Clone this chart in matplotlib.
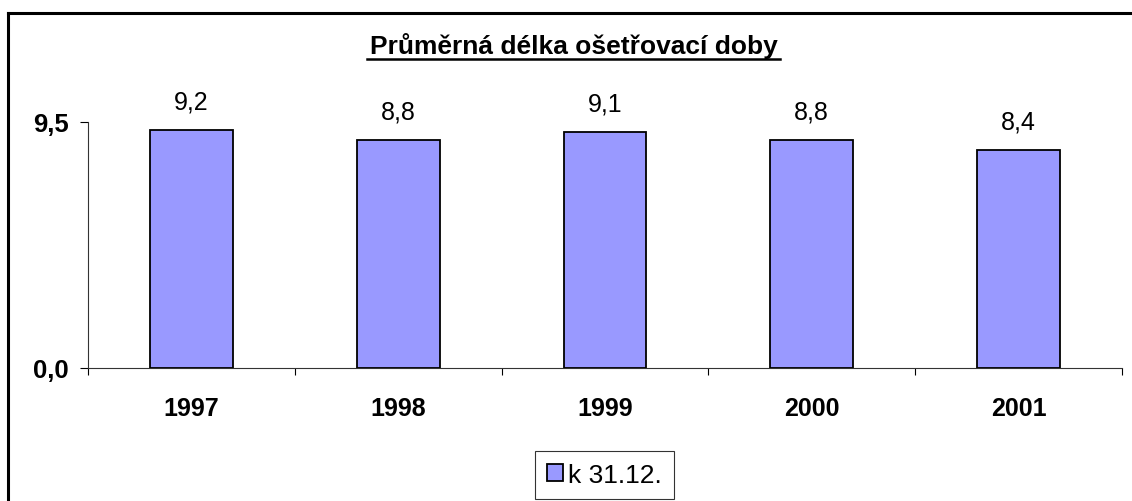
import matplotlib
matplotlib.use("Agg")
import matplotlib.pyplot as plt
from matplotlib.lines import Line2D

# data
years = ["1997", "1998", "1999", "2000", "2001"]
values = [9.2, 8.8, 9.1, 8.8, 8.4]
value_labels = ["9,2", "8,8", "9,1", "8,8", "8,4"]
y_ticks = [0.0, 9.5]
y_tick_labels = ["0,0", "9,5"]
series_name = "k 31.12."
title = "Průměrná délka ošetřovací doby"

plt.rcParams['font.family'] = ['Liberation Sans', 'DejaVu Sans']

W, H = 1132, 502
fig = plt.figure(figsize=(W / 100, H / 100), dpi=100)
ax = fig.add_axes([88 / W, 1 - 369 / H, (1122 - 88) / W, (369 - 123) / H])

x = list(range(len(years)))
bars = ax.bar(x, values, width=0.4, color="#9999FF", edgecolor="black",
              linewidth=1.3, label=series_name, zorder=3)
for xi, v, lab in zip(x, values, value_labels):
    ax.annotate(lab, (xi, v), xytext=(0, 12), textcoords="offset points",
                ha="center", va="bottom", fontsize=18)

ax.set_xlim(-0.5, len(years) - 0.5)
ax.set_ylim(0, 9.5)
ax.set_yticks(y_ticks)
ax.set_yticklabels(y_tick_labels, fontsize=18.5, fontweight="bold")
ax.set_xticks(x)
ax.set_xticklabels(years, fontsize=18, fontweight="bold")
ax.tick_params(axis="x", length=0, pad=20)
ax.set_xticks([i + 0.5 for i in range(-1, len(years))], minor=True)
ax.tick_params(axis="x", which="minor", length=5, width=0.8, direction="out")
ax.tick_params(axis="y", length=6, width=0.8, pad=8)

for side in ("top", "right"):
    ax.spines[side].set_visible(False)
for side in ("left", "bottom"):
    ax.spines[side].set_linewidth(0.8)
    ax.spines[side].set_color("#333333")

fig.text(574 / W, 1 - 46 / H, title, ha="center", va="center",
         fontsize=19, fontweight="bold")
# underline below title
fig.add_artist(Line2D([367 / W, 780 / W], [1 - 59.5 / H, 1 - 59.5 / H],
                      color="black", linewidth=1.8))

leg = fig.legend(handles=[bars], loc="center", bbox_to_anchor=(604.5 / W, 1 - 476 / H),
                 fontsize=19, frameon=True, fancybox=False, handlelength=0.6,
                 handleheight=0.6, handletextpad=0.2, borderpad=0.45)
leg.get_frame().set_edgecolor("black")
leg.get_frame().set_linewidth(0.8)

# chart area border (cropped at right and bottom)
fig.add_artist(Line2D([7.5 / W, 7.5 / W], [0, 1 - 14 / H], color="black", linewidth=2.2))
fig.add_artist(Line2D([7.5 / W, 1], [1 - 14 / H, 1 - 14 / H], color="black", linewidth=2.2))

fig.savefig("out.png", dpi=100)
